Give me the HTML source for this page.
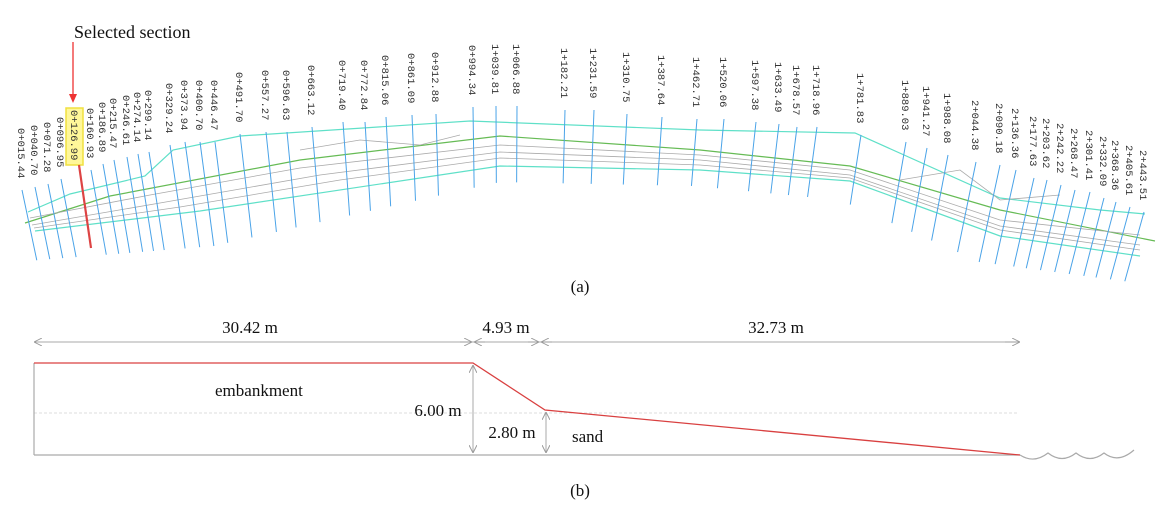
<!DOCTYPE html>
<html><head><meta charset="utf-8"><style>
html,body{margin:0;padding:0;background:#fff;width:1172px;height:523px;overflow:hidden}
svg{display:block}
.st{font-family:"Liberation Mono",monospace;font-size:10.5px;fill:#333}
.sr{font-family:"Liberation Serif",serif;fill:#111}
</style></head><body>
<svg id="fig" width="1172" height="523" viewBox="0 0 1172 523" xmlns="http://www.w3.org/2000/svg">
<defs>
<marker id="ar" viewBox="0 0 10 10" refX="10" refY="5" markerWidth="8" markerHeight="8" orient="auto-start-reverse"><path d="M0,0 L10,5 L0,10" fill="none" stroke="#999" stroke-width="1.2"/></marker>
</defs>
<g id="plan">
<path d="M28,212 L70,194 L145,176 L173,150 L240,136 L470,121 L700,130 L855,133 L1000,198 L1100,210 L1145,214" fill="none" stroke="#5fe0c8" stroke-width="1.2"/>
<path d="M25,223 L110,196 L300,160 L500,136 L700,150 L850,166 L1000,210 L1155,241" fill="none" stroke="#66bb55" stroke-width="1.2"/>
<path d="M35,231 L200,211 L500,166 L700,170 L850,181 L1000,236 L1140,256" fill="none" stroke="#5fe0c8" stroke-width="1.2"/>
<g fill="none" stroke="#aaa" stroke-width="0.8">
<path d="M30,218 L150,195 L300,168 L500,145 L700,155 L850,170 L1000,220 L1140,235"/>
<path d="M32,225 L160,203 L320,175 L500,152 L700,160 L850,175 L1000,226 L1140,245"/>
<path d="M34,228 L180,207 L340,180 L500,158 L700,165 L850,178 L1000,230 L1140,250"/>
<path d="M300,150 L360,140 L420,145 L460,135"/>
<path d="M900,180 L960,170 L1000,200 L1060,195"/>
</g>
<rect x="66" y="108" width="17" height="57" fill="#fff799" stroke="#f0e040" stroke-width="1.5"/>
<g id="stations"></g>
<line x1="79" y1="165" x2="91" y2="248" stroke="#dd4444" stroke-width="2.2"/>
<text class="sr" x="74" y="38" font-size="18">Selected section</text>
<line x1="73" y1="42" x2="73" y2="96" stroke="#e33" stroke-width="1.3"/>
<path d="M69,94 L73,103 L77,94 Z" fill="#e33"/>
<text class="sr" x="580" y="292" font-size="17" text-anchor="middle">(a)</text>
</g>
<g id="section">
<line x1="35" y1="342" x2="1018" y2="342" stroke="#aaa" stroke-width="1"/>
<line x1="36" y1="342" x2="34" y2="342" stroke="#999" marker-end="url(#ar)"/>
<line x1="460" y1="342" x2="472" y2="342" stroke="#999" marker-end="url(#ar)"/>
<line x1="485" y1="342" x2="474" y2="342" stroke="#999" marker-end="url(#ar)"/>
<line x1="528" y1="342" x2="539" y2="342" stroke="#999" marker-end="url(#ar)"/>
<line x1="552" y1="342" x2="541" y2="342" stroke="#999" marker-end="url(#ar)"/>
<line x1="1005" y1="342" x2="1020" y2="342" stroke="#999" marker-end="url(#ar)"/>
<text class="sr" x="250" y="333" font-size="17" text-anchor="middle">30.42 m</text>
<text class="sr" x="506" y="333" font-size="17" text-anchor="middle">4.93 m</text>
<text class="sr" x="776" y="333" font-size="17" text-anchor="middle">32.73 m</text>
<line x1="34" y1="413" x2="1018" y2="413" stroke="#ddd" stroke-dasharray="3,2"/>
<line x1="34" y1="455" x2="1020" y2="455" stroke="#aaa" stroke-width="1.2"/>
<line x1="34" y1="363" x2="34" y2="455" stroke="#aaa" stroke-width="1.2"/>
<path d="M34,363 L473,363 L545,410 L1020,455" fill="none" stroke="#d94040" stroke-width="1.3"/>
<line x1="473" y1="365" x2="473" y2="453" stroke="#aaa" marker-start="url(#ar)" marker-end="url(#ar)"/>
<line x1="546" y1="412" x2="546" y2="453" stroke="#aaa" marker-start="url(#ar)" marker-end="url(#ar)"/>
<text class="sr" x="438" y="416" font-size="17" text-anchor="middle">6.00 m</text>
<text class="sr" x="512" y="438" font-size="17" text-anchor="middle">2.80 m</text>
<text class="sr" x="215" y="396" font-size="17">embankment</text>
<text class="sr" x="572" y="442" font-size="17">sand</text>
<path d="M1020,455 Q1034,464 1048,453 Q1062,464 1076,453 Q1090,464 1104,453 Q1118,464 1134,450" fill="none" stroke="#aaa" stroke-width="1.2"/>
<text class="sr" x="580" y="496" font-size="17" text-anchor="middle">(b)</text>
</g>
</svg>
<script>
const stationLabels=["0+015.44","0+040.70","0+071.28","0+096.95","0+126.99","0+160.93","0+186.89","0+215.47","0+246.61","0+274.14","0+299.14","0+329.24","0+373.94","0+400.70","0+446.47","0+491.70","0+557.27","0+596.63","0+663.12","0+719.40","0+772.84","0+815.06","0+861.09","0+912.88","0+994.34","1+039.81","1+066.88","1+182.21","1+231.59","1+310.75","1+387.64","1+462.71","1+520.06","1+597.38","1+633.49","1+678.57","1+718.96","1+781.83","1+889.03","1+941.27","1+988.08","2+044.38","2+090.18","2+136.36","2+177.63","2+203.62","2+242.22","2+268.47","2+301.41","2+332.09","2+368.36","2+405.61","2+443.51"];
const stationX=[22,35,48,61,75,91,103,114,127,138,149,170,185,200,215,240,266,287,312,343,365,386,412,436,473,496,517,565,594,627,662,697,724,756,779,797,817,861,906,927,948,976,1000,1016,1034,1047,1061,1075,1090,1104,1116,1130,1144];
const stationTop=[128,125,122,117,110,108,102,98,95,92,90,83,80,80,80,72,70,70,65,60,60,55,53,52,45,44,44,48,48,52,55,57,57,60,62,65,65,73,80,86,93,100,103,108,116,118,123,128,130,136,140,145,150];
const g=document.getElementById('stations');
const NS='http://www.w3.org/2000/svg';
function botY(x){const p=[[0,262],[200,246],[500,182],[700,186],[850,200],[1000,262],[1150,282]];for(let i=0;i<p.length-1;i++){if(x<=p[i+1][0]){const t=(x-p[i][0])/(p[i+1][0]-p[i][0]);return p[i][1]+t*(p[i+1][1]-p[i][1]);}}return 282;}
stationLabels.forEach((lab,i)=>{
  const x=stationX[i], top=stationTop[i];
  const t=document.createElementNS(NS,'text');
  
  
  t.setAttribute('class','st');
  t.setAttribute('transform','translate('+(x-4)+','+top+') rotate(90)');
  t.textContent=lab;
  g.appendChild(t);
  if(i===4) return;
  const tilt=0.22-0.5*x/1150;
  const y1=top+62, y2=botY(x);
  const l=document.createElementNS(NS,'line');
  
  
  l.setAttribute('x1',x);l.setAttribute('y1',y1);
  l.setAttribute('x2',x+tilt*(y2-y1));l.setAttribute('y2',y2);
  l.setAttribute('stroke','#4aa3e8');l.setAttribute('stroke-width','1');
  g.appendChild(l);
});
</script>
</body></html>
